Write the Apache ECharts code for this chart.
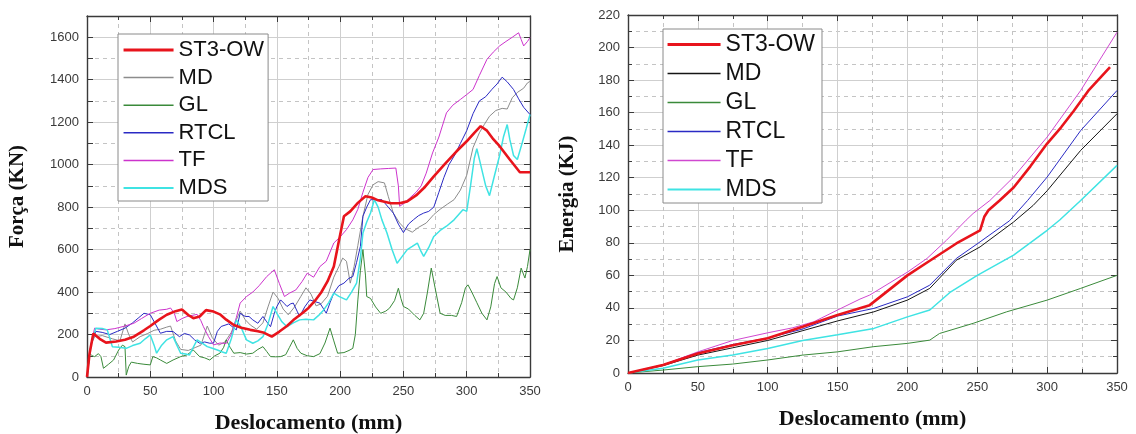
<!DOCTYPE html>
<html>
<head>
<meta charset="utf-8">
<script src="https://cdn.jsdelivr.net/npm/echarts@6/dist/echarts.min.js"></script>
<style>
  html, body { margin: 0; padding: 0; background: #ffffff; }
  #chart { width: 1136px; height: 434px; }
</style>
</head>
<body>
<div id="chart"></div>
<script>
// Series names shared by both panels
const seriesNames = ['ST3-OW', 'MD', 'GL', 'RTCL', 'TF', 'MDS'];

// Força (KN) vs Deslocamento (mm): [deslocamento, força]
const forceST3 = [[0,0],[2,110],[5,205],[10,180],[15,162],[23,167],[30,175],[37,190],[45,220],[50,240],[57,270],[63,293],[70,310],[75,318],[80,292],[84,277],[89,285],[94,315],[100,308],[105,295],[110,270],[116,245],[122,232],[129,222],[135,215],[140,208],[146,190],[152,214],[158,240],[163,268],[170,300],[175,325],[180,358],[185,398],[190,450],[195,520],[199,640],[203,757],[208,780],[214,820],[220,851],[225,845],[230,832],[240,818],[247,818],[253,827],[260,855],[267,895],[274,945],[283,1005],[292,1063],[300,1110],[306,1150],[311,1181],[316,1160],[321,1120],[326,1087],[334,1024],[342,964],[350,964]];

const forceMD = [[0,0],[3,150],[6,190],[12,195],[20,180],[26,170],[30,250],[33,200],[36,165],[42,190],[48,205],[53,220],[58,225],[63,235],[66,240],[70,170],[74,130],[80,125],[86,140],[90,150],[95,240],[99,185],[104,150],[109,165],[114,210],[118,270],[121,310],[125,270],[129,245],[134,225],[139,255],[143,330],[147,400],[151,370],[155,320],[159,293],[164,330],[169,380],[173,420],[177,390],[181,335],[185,345],[190,380],[195,470],[199,520],[202,560],[205,545],[208,442],[211,520],[214,620],[218,757],[222,860],[226,905],[230,920],[235,914],[238,851],[242,772],[247,725],[251,700],[257,682],[262,705],[268,725],[274,765],[279,790],[285,815],[290,835],[295,880],[300,950],[305,1080],[310,1150],[314,1190],[318,1228],[323,1255],[328,1265],[332,1262],[336,1315],[340,1340],[345,1360],[348,1385],[350,1392]];

const forceGL = [[0,0],[2,112],[4,100],[6,96],[9,110],[11,96],[13,41],[17,60],[21,80],[25,127],[28,150],[30,143],[31,9],[33,50],[35,70],[40,64],[45,60],[50,57],[52,96],[55,90],[58,80],[63,64],[68,80],[74,96],[79,104],[84,127],[89,96],[93,90],[97,80],[101,100],[105,112],[108,140],[110,175],[113,140],[116,112],[121,115],[126,108],[131,112],[135,130],[139,143],[142,120],[145,96],[149,95],[153,96],[157,105],[160,140],[163,175],[166,135],[169,112],[174,100],[179,96],[184,110],[188,160],[192,230],[195,170],[198,112],[203,115],[207,125],[210,135],[212,200],[214,363],[216,500],[218,600],[220,480],[221,379],[224,370],[228,330],[232,300],[236,310],[239,324],[243,360],[246,418],[248,370],[250,332],[254,320],[259,290],[263,269],[266,300],[269,400],[272,513],[275,420],[279,300],[283,290],[288,290],[292,285],[296,350],[299,420],[301,434],[304,400],[308,350],[312,300],[316,269],[319,330],[322,440],[324,473],[327,420],[331,400],[335,370],[337,363],[340,420],[343,513],[346,466],[348,520],[350,600]];

const forceRTCL = [[0,0],[3,150],[7,215],[12,210],[18,200],[24,215],[30,230],[36,255],[41,280],[45,300],[50,293],[54,250],[58,206],[63,215],[68,214],[73,190],[77,205],[81,198],[85,175],[89,159],[93,165],[97,159],[100,160],[103,215],[106,238],[112,250],[118,222],[121,300],[125,285],[128,285],[131,269],[135,253],[139,285],[142,260],[145,237],[148,300],[150,332],[153,363],[156,345],[158,332],[161,345],[163,348],[166,310],[168,285],[172,330],[176,363],[180,355],[184,348],[187,320],[189,300],[192,350],[195,395],[199,430],[203,442],[207,465],[210,473],[213,540],[216,615],[218,757],[221,800],[224,835],[229,835],[233,835],[238,800],[242,772],[246,720],[250,680],[254,720],[258,741],[262,760],[266,772],[270,780],[274,800],[278,870],[282,940],[286,1000],[291,1050],[295,1100],[300,1160],[305,1240],[310,1300],[315,1320],[320,1355],[324,1380],[328,1412],[332,1390],[337,1354],[341,1310],[345,1270],[350,1236]];

const forceTF = [[0,0],[3,150],[6,230],[10,225],[15,222],[22,228],[30,240],[37,253],[43,275],[50,300],[57,315],[63,319],[66,325],[69,300],[71,261],[75,275],[79,285],[83,290],[87,295],[90,265],[92,237],[96,190],[100,151],[105,160],[110,158],[114,200],[118,280],[121,348],[126,379],[131,400],[136,430],[142,473],[148,505],[152,440],[156,379],[160,395],[165,410],[170,450],[174,489],[179,470],[184,520],[189,545],[195,631],[200,660],[205,694],[210,740],[214,790],[218,870],[222,940],[226,977],[232,980],[238,982],[244,984],[246,900],[247,804],[251,820],[255,843],[260,870],[264,900],[268,960],[273,1055],[278,1130],[284,1244],[289,1280],[295,1307],[300,1330],[305,1354],[310,1420],[316,1496],[321,1530],[326,1559],[331,1580],[336,1600],[341,1621],[343,1590],[345,1559],[348,1580],[350,1598]];

const forceMDS = [[0,0],[3,150],[7,230],[12,228],[16,222],[20,143],[25,140],[31,135],[36,148],[42,159],[46,180],[50,198],[53,150],[55,112],[59,150],[63,175],[68,190],[71,150],[74,112],[78,108],[81,104],[84,140],[87,175],[91,160],[95,143],[99,135],[103,127],[107,118],[110,112],[114,180],[118,269],[122,230],[126,175],[131,159],[135,170],[139,190],[143,250],[147,332],[150,300],[154,260],[158,237],[163,255],[168,269],[173,272],[179,269],[183,290],[187,316],[191,350],[195,395],[199,380],[205,363],[209,400],[213,442],[216,560],[218,678],[221,730],[224,772],[227,835],[230,800],[233,740],[237,678],[241,600],[245,536],[248,560],[253,600],[257,615],[261,631],[264,590],[266,568],[270,610],[274,662],[279,690],[284,710],[290,740],[297,788],[300,780],[303,900],[306,1030],[308,1075],[311,1000],[315,900],[318,854],[322,950],[326,1043],[329,1130],[332,1189],[334,1120],[337,1043],[340,1024],[344,1106],[347,1170],[350,1236]];

// Energia (KJ) vs Deslocamento (mm): [deslocamento, energia]
const energyST3 = [[0,0],[25,4.9],[50,12],[75,17],[100,21.3],[125,28.4],[150,35.6],[173,41.7],[200,60],[216,69],[235,79.6],[252,87.7],[255,96],[258,100],[266,106],[276,114],[288,127],[300,141],[310,151],[319,161],[330,174],[345,188]];
const energyMD = [[0,0],[25,4.5],[50,11],[75,15.5],[100,20],[125,26],[150,32],[176,37.6],[200,44.8],[216,52],[235,69.3],[252,77.5],[276,92.8],[290,103],[300,112],[324,136.8],[350,159.3]];
const energyGL = [[0,0],[25,1.8],[50,3.9],[75,5.5],[100,8],[125,11],[150,13],[176,16.2],[200,18.2],[216,20.2],[223,24.3],[247,30.5],[271,37.6],[300,44.8],[324,52],[350,60]];
const energyRTCL = [[0,0],[25,5],[50,12.5],[75,17.5],[100,21.5],[125,27],[150,35],[176,39.7],[200,46.8],[216,54],[235,70.4],[252,80.6],[273,93.5],[286,106],[300,120.4],[324,149],[350,173.6]];
const energyTF = [[0,0],[25,5],[50,13],[75,20],[100,24.7],[118,27.8],[133,31.5],[150,38.7],[166,45.4],[173,47.9],[200,62],[214,70.4],[228,81.6],[242,93.9],[247,98],[259,106],[276,120.4],[300,145],[324,173.6],[350,209.4]];
const energyMDS = [[0,0],[25,2.9],[50,8],[75,11],[100,15],[125,20],[150,23.5],[176,27.4],[200,34.5],[216,38.7],[231,49.9],[250,60],[276,72.4],[300,87.7],[309,94],[324,106],[350,127.6]];

const forceData = [forceST3, forceMD, forceGL, forceRTCL, forceTF, forceMDS];
const energyData = [energyST3, energyMD, energyGL, energyRTCL, energyTF, energyMDS];

const forceColors  = ['#e8141c', '#8c8c8c', '#3a8a3a', '#2a2ac4', '#cc33cc', '#3fe3e3'];
const energyColors = ['#e8141c', '#151515', '#3a8a3a', '#2a2ac4', '#d048d0', '#3fe3e3'];
const lineWidths   = [2.6, 1, 1, 1, 1, 1.5];

const labelStyle = { color: '#3a3a3a', fontSize: 13, fontFamily: 'Liberation Sans, Arial, sans-serif' };
const nameStyle  = { color: '#111', fontSize: 21, fontWeight: 'bold', fontFamily: 'Liberation Serif, Times New Roman, serif' };
const frameLine  = { show: true, onZero: false, lineStyle: { color: '#3a3a3a', width: 1.4 } };
const tickStyle  = { show: true, inside: true, length: 6, lineStyle: { color: '#3a3a3a', width: 1 } };
const minorTickStyle = { show: true, splitNumber: 2, length: 4, lineStyle: { color: '#3a3a3a', width: 1 } };
const solidGrid  = { show: true, lineStyle: { color: '#cfcfcf', width: 1, type: 'solid' } };
const dashedGrid = { show: true, lineStyle: { color: '#c4c4c4', width: 1, type: [4, 4] } };

function xAxes(gridIndex) {
  return [
    {
      gridIndex, type: 'value', position: 'bottom', min: 0, max: 350, interval: 50,
      axisLine: frameLine, axisTick: tickStyle, minorTick: minorTickStyle,
      axisLabel: Object.assign({ margin: 8 }, labelStyle),
      splitLine: solidGrid, minorSplitLine: dashedGrid,
      name: 'Deslocamento (mm)', nameLocation: 'middle', nameGap: 35,
      nameTextStyle: Object.assign({}, nameStyle, { fontSize: 22 }), nameMoveOverlap: false
    },
    {
      gridIndex, type: 'value', position: 'top', min: 0, max: 350, interval: 50,
      axisLine: frameLine, axisTick: tickStyle, minorTick: minorTickStyle,
      axisLabel: { show: false }, splitLine: { show: false }
    }
  ];
}

// Legend entries: line sample only, the point marker is hidden
function legendItems(colors) {
  return seriesNames.map((n, i) => ({
    name: n,
    itemStyle: { color: colors[i], opacity: 0, borderWidth: 0 },
    lineStyle: { color: colors[i], width: lineWidths[i] + 0.5 }
  }));
}

const option = {
  animation: false,
  backgroundColor: '#ffffff',
  grid: [
    { left: 87, top: 16, width: 443, height: 361, outerBoundsMode: 'none', containLabel: false },
    { left: 628, top: 15, width: 489, height: 358, outerBoundsMode: 'none', containLabel: false }
  ],
  xAxis: xAxes(0).concat(xAxes(1)),
  yAxis: [
    // Força axis: labels every 200, dashed lines every 100
    {
      gridIndex: 0, type: 'value', position: 'left', min: 0, max: 1700, interval: 100,
      axisLine: frameLine, axisTick: tickStyle,
      axisLabel: Object.assign({ margin: 8, formatter: v => (v % 200 === 0 ? String(v) : '') }, labelStyle),
      splitLine: dashedGrid,
      name: 'Força (KN)', nameLocation: 'middle', nameGap: 59, nameRotate: 90,
      nameTextStyle: nameStyle, nameMoveOverlap: false
    },
    {
      gridIndex: 0, type: 'value', position: 'right', min: 0, max: 1700, interval: 100,
      axisLine: frameLine, axisTick: tickStyle, axisLabel: { show: false }, splitLine: { show: false }
    },
    // solid lines every 200 KN
    {
      gridIndex: 0, type: 'value', position: 'left', min: 0, max: 1700, interval: 200,
      axisLine: { show: false }, axisTick: { show: false }, axisLabel: { show: false },
      splitLine: solidGrid
    },
    // Energia axis
    {
      gridIndex: 1, type: 'value', position: 'left', min: 0, max: 220, interval: 20,
      axisLine: frameLine, axisTick: tickStyle, minorTick: minorTickStyle,
      axisLabel: Object.assign({ margin: 8 }, labelStyle),
      splitLine: solidGrid, minorSplitLine: dashedGrid,
      name: 'Energia (KJ)', nameLocation: 'middle', nameGap: 50, nameRotate: 90,
      nameTextStyle: nameStyle, nameMoveOverlap: false
    },
    {
      gridIndex: 1, type: 'value', position: 'right', min: 0, max: 220, interval: 20,
      axisLine: frameLine, axisTick: tickStyle, minorTick: minorTickStyle,
      axisLabel: { show: false }, splitLine: { show: false }
    }
  ],
  legend: [
    {
      orient: 'vertical', left: 118, top: 34, itemWidth: 50, itemHeight: 14, itemGap: 5.6,
      padding: [5, 4, 2, 4], borderColor: '#8a8a8a', borderWidth: 1, backgroundColor: '#ffffff',
      selectedMode: false, textStyle: { fontSize: 22, color: '#111', fontFamily: 'Liberation Sans, Arial, sans-serif' },
      data: legendItems(forceColors)
    },
    {
      orient: 'vertical', left: 663, top: 29, itemWidth: 53, itemHeight: 14, itemGap: 6,
      padding: [4, 7, 2, 3], borderColor: '#8a8a8a', borderWidth: 1, backgroundColor: '#ffffff',
      selectedMode: false, textStyle: { fontSize: 23, color: '#111', fontFamily: 'Liberation Sans, Arial, sans-serif' },
      data: legendItems(energyColors)
    }
  ],
  series: []
};

// Draw order: thin curves first, ST3-OW on top
const order = [1, 2, 3, 4, 5, 0];
order.forEach(i => {
  option.series.push({
    name: seriesNames[i], type: 'line', xAxisIndex: 0, yAxisIndex: 0,
    data: forceData[i], showSymbol: false, symbol: 'none', silent: true,
    z: i === 0 ? 4 : 3,
    lineStyle: { color: forceColors[i], width: lineWidths[i] },
    itemStyle: { color: forceColors[i] }
  });
});
order.forEach(i => {
  option.series.push({
    name: seriesNames[i], type: 'line', xAxisIndex: 2, yAxisIndex: 3,
    data: energyData[i], showSymbol: false, symbol: 'none', silent: true,
    z: i === 0 ? 4 : 3,
    lineStyle: { color: energyColors[i], width: lineWidths[i] },
    itemStyle: { color: energyColors[i] }
  });
});

const chart = echarts.init(document.getElementById('chart'), null, { renderer: 'canvas' });
chart.setOption(option);
</script>
</body>
</html>
